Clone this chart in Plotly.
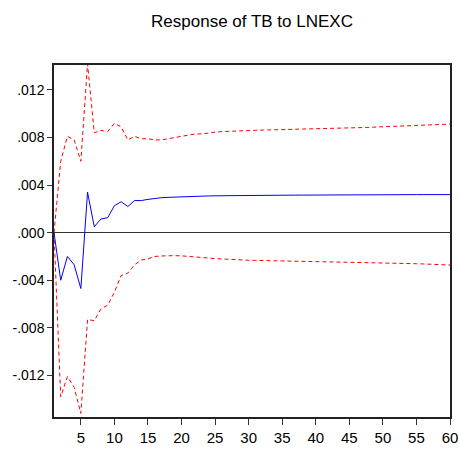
import plotly.graph_objects as go

periods = list(range(1, 61))

response = [
    0.0, -0.0040, -0.0020, -0.0027, -0.0047, 0.0034, 0.0005, 0.00115, 0.00126, 0.00227,
    0.0026, 0.0022, 0.0027, 0.0027, 0.0028, 0.0029, 0.00294, 0.00297, 0.0030, 0.0030,
    0.00303, 0.00305, 0.00307, 0.00309, 0.0031, 0.00311, 0.00312, 0.00312, 0.00313, 0.00313,
    0.00314, 0.00314, 0.00315, 0.00315, 0.00315, 0.00316, 0.00316, 0.00316, 0.00317, 0.00317,
    0.00317, 0.00317, 0.00318, 0.00318, 0.00318, 0.00318, 0.00318, 0.00319, 0.00319, 0.00319,
    0.00319, 0.00319, 0.00319, 0.0032, 0.0032, 0.0032, 0.0032, 0.0032, 0.0032, 0.0032,
]

upper_band = [
    0.0, 0.0060, 0.0081, 0.0078, 0.0060, 0.0142, 0.0084, 0.0086, 0.0085, 0.0092,
    0.0089, 0.0078, 0.0081, 0.0079, 0.0079, 0.0078, 0.0078, 0.0079, 0.0080, 0.0081,
    0.0082, 0.0083, 0.0083, 0.0084, 0.00845, 0.0085, 0.00853, 0.00856, 0.00858, 0.0086,
    0.00862, 0.00863, 0.00864, 0.00865, 0.00867, 0.00868, 0.0087, 0.00872, 0.00874, 0.00876,
    0.00877, 0.00878, 0.00879, 0.0088, 0.0088, 0.00882, 0.00884, 0.00886, 0.00888, 0.0089,
    0.00893, 0.00896, 0.00898, 0.0090, 0.00904, 0.00906, 0.00908, 0.0091, 0.00912, 0.00913,
]

lower_band = [
    0.0, -0.0138, -0.0121, -0.0130, -0.0152, -0.0073, -0.0074, -0.0064, -0.0061, -0.0050,
    -0.0036, -0.0034, -0.0027, -0.0023, -0.0022, -0.0020, -0.00196, -0.00193, -0.00193, -0.00195,
    -0.00198, -0.00203, -0.00208, -0.00213, -0.00218, -0.00222, -0.00225, -0.00228, -0.0023, -0.00232,
    -0.00233, -0.00234, -0.00235, -0.00236, -0.00236, -0.00237, -0.00238, -0.00239, -0.0024, -0.0024,
    -0.00242, -0.00243, -0.00244, -0.00246, -0.00247, -0.00248, -0.00249, -0.0025, -0.00252, -0.00253,
    -0.00255, -0.00257, -0.00259, -0.0026, -0.00261, -0.00263, -0.00265, -0.00267, -0.0027, -0.00272,
]

x_ticks = [5, 10, 15, 20, 25, 30, 35, 40, 45, 50, 55, 60]
y_ticks = [-0.012, -0.008, -0.004, 0.0, 0.004, 0.008, 0.012]
y_tick_labels = ["-.012", "-.008", "-.004", ".000", ".004", ".008", ".012"]

FONT = "Liberation Sans Narrow, Arial Narrow, Liberation Sans, Arial, sans-serif"

fig = go.Figure()
fig.add_trace(go.Scatter(x=periods, y=upper_band, mode="lines",
                         line=dict(color="#ff0000", width=1, dash="4px,3px"),
                         showlegend=False, hoverinfo="skip"))
fig.add_trace(go.Scatter(x=periods, y=lower_band, mode="lines",
                         line=dict(color="#ff0000", width=1, dash="4px,3px"),
                         showlegend=False, hoverinfo="skip"))
fig.add_trace(go.Scatter(x=periods, y=response, mode="lines",
                         line=dict(color="#0000ff", width=1),
                         showlegend=False))

fig.update_layout(
    width=459, height=452,
    margin=dict(l=54, r=9, t=65, b=35),
    paper_bgcolor="white", plot_bgcolor="white",
    font=dict(family=FONT, size=14, color="black"),
    title=dict(text="Response of TB to LNEXC", x=252 / 459, xanchor="center",
               y=1 - 21 / 452, yanchor="middle", yref="container",
               font=dict(family=FONT, size=17, color="black")),
    xaxis=dict(range=[1, 60], tickvals=x_ticks, ticks="outside", ticklen=6,
               tickcolor="#333", showgrid=False, zeroline=False, automargin=False,
               showline=True, linecolor="#222", linewidth=1.5, mirror=True,
               tickfont=dict(family=FONT, size=15, color="black")),
    yaxis=dict(range=[-0.0155, 0.0141], tickvals=y_ticks, ticktext=y_tick_labels,
               ticks="outside", ticklen=5, tickcolor="#333", showgrid=False,
               zeroline=True, zerolinecolor="#333", zerolinewidth=1.2, automargin=False,
               showline=True, linecolor="#222", linewidth=1.5, mirror=True,
               tickfont=dict(family=FONT, size=14, color="black")),
)

fig.write_html("out.html")
